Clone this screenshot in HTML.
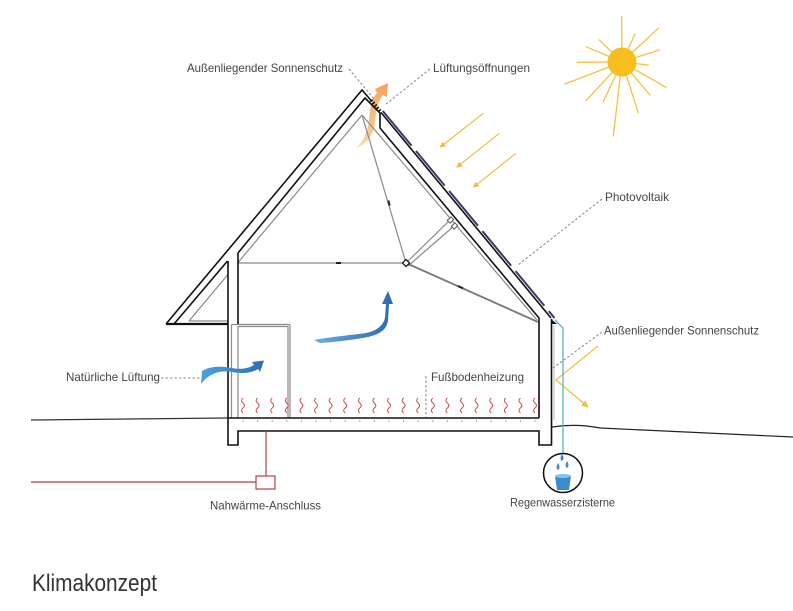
<!DOCTYPE html>
<html><head><meta charset="utf-8"><style>
html,body{margin:0;padding:0;background:#fff;}
svg{display:block;}
text{font-family:"Liberation Sans",sans-serif;fill:#454545;}
</style></head><body>
<svg width="793" height="611" viewBox="0 0 793 611" xmlns="http://www.w3.org/2000/svg">
<defs>
<marker id="ah" viewBox="0 0 10 10" refX="9" refY="5" markerWidth="6" markerHeight="6" orient="auto" markerUnits="userSpaceOnUse">
<path d="M0,0 L10,5 L0,10 Z" fill="#f2bb44"/>
</marker>
<marker id="ah2" viewBox="0 0 10 10" refX="9" refY="5" markerWidth="7" markerHeight="7" orient="auto" markerUnits="userSpaceOnUse">
<path d="M0,0 L10,5 L0,10 Z" fill="#eac44a"/>
</marker>
<linearGradient id="og" x1="0" y1="1" x2="0" y2="0">
<stop offset="0" stop-color="#fbd7a8"/><stop offset="1" stop-color="#f3a35a"/>
</linearGradient>
<linearGradient id="bg1" x1="0" y1="0" x2="1" y2="0">
<stop offset="0" stop-color="#4aa3de"/><stop offset="1" stop-color="#2d6fb8"/>
</linearGradient>
<linearGradient id="bg2" x1="0" y1="0" x2="1" y2="0">
<stop offset="0" stop-color="#6aaee0"/><stop offset="1" stop-color="#2c68b0"/>
</linearGradient>
</defs>
<rect width="793" height="611" fill="#fff"/>

<!-- Sun -->
<g stroke="#f5c244" stroke-width="1.3" stroke-linecap="round">
<line x1="622" y1="62" x2="621.7" y2="16.7"/>
<line x1="622" y1="62" x2="599.3" y2="40"/>
<line x1="622" y1="62" x2="586" y2="46.7"/>
<line x1="622" y1="62" x2="577.3" y2="62.3"/>
<line x1="622" y1="62" x2="565" y2="84"/>
<line x1="622" y1="62" x2="586" y2="100.7"/>
<line x1="622" y1="62" x2="603.3" y2="101.7"/>
<line x1="622" y1="62" x2="613.3" y2="136"/>
<line x1="622" y1="62" x2="638.3" y2="112.7"/>
<line x1="622" y1="62" x2="650" y2="95"/>
<line x1="622" y1="62" x2="666" y2="87.3"/>
<line x1="622" y1="62" x2="648.3" y2="65"/>
<line x1="622" y1="62" x2="659.3" y2="50"/>
<line x1="622" y1="62" x2="658.3" y2="28.3"/>
<line x1="622" y1="62" x2="635" y2="34"/>
</g>
<circle cx="622" cy="62" r="14.5" fill="#f8bd1e"/>

<!-- Sun arrows -->
<g stroke="#f2bb44" stroke-width="1.2" fill="none">
<line x1="483.3" y1="113.3" x2="440" y2="147.3" marker-end="url(#ah)"/>
<line x1="499.3" y1="133.3" x2="456.7" y2="167.3" marker-end="url(#ah)"/>
<line x1="516" y1="153.3" x2="473.3" y2="187.3" marker-end="url(#ah)"/>
</g>
<polyline points="598,346 556,380 588,407" fill="none" stroke="#eac44a" stroke-width="1.3" marker-end="url(#ah2)"/>

<!-- Orange ventilation arrow -->
<path d="M356,148 C363,142 368,132 369,120 C370,108 372,98 377,93 L375,89 L388,83 L387,97 L383,95 C378,101 376,110 375,122 C374,134 368,143 356,148 Z" fill="url(#og)"/>

<!-- Ground -->
<path d="M31,420 L228,418" stroke="#333" stroke-width="1.2" fill="none"/>
<path d="M552,427 C565,425 580,424 600,428 L793,437" stroke="#222" stroke-width="1.2" fill="none"/>

<!-- Gray interior lines -->
<g stroke="#8a8a8a" stroke-width="1.2" fill="none">
<line x1="189" y1="321" x2="228" y2="274.4"/>
<line x1="238" y1="262.5" x2="362" y2="115"/>
<line x1="189" y1="321" x2="228" y2="321"/>
<line x1="238" y1="263" x2="406" y2="263"/>
<line x1="362" y1="115" x2="406" y2="263"/>
<line x1="362" y1="115" x2="537" y2="320"/>
<line x1="406" y1="263" x2="450" y2="220"/>
<line x1="408" y1="266" x2="454" y2="226"/>
<!-- window -->
<line x1="231.5" y1="324.5" x2="231.5" y2="418"/>
<line x1="238" y1="326" x2="238" y2="418"/>
<line x1="288" y1="326" x2="288" y2="418"/>
<line x1="290" y1="324.5" x2="290" y2="418"/>
<line x1="231.5" y1="324.5" x2="290" y2="324.5"/>
<line x1="238" y1="326.5" x2="288" y2="326.5"/>
</g>
<line x1="406" y1="263" x2="538" y2="322" stroke="#7a7a7a" stroke-width="1.8"/>
<g fill="#fff" stroke="#555" stroke-width="1">
<rect x="448" y="218" width="5" height="4" transform="rotate(-45 450.5 220)"/>
<rect x="452" y="224" width="5" height="4" transform="rotate(-45 454.5 226)"/>
</g>
<g stroke="#222" stroke-width="2">
<line x1="336" y1="263" x2="341" y2="263"/>
<line x1="388.3" y1="200.5" x2="389.7" y2="205.5"/>
<line x1="458" y1="286" x2="463" y2="288.3"/>
</g>
<rect x="403.5" y="260.5" width="5" height="5" fill="#fff" stroke="#111" stroke-width="1.2" transform="rotate(45 406 263)"/>

<!-- Building black lines -->
<g stroke="#111" stroke-width="1.6" fill="none" stroke-linejoin="miter">
<path d="M166,324 L362,90 L372,101.5"/>
<path d="M381,112.5 L551,318"/>
<path d="M174,324 L227.5,261"/>
<path d="M238,253 L365,98 L380,113 L380,128 L539,318 L539,418"/>
<path d="M228,261 L228,445 L238,445 L238,431 L539,431 L539,445 L551.5,445 L551.5,319"/>
<path d="M238,253 L238,324"/>
<path d="M228,418 L539,418"/>
</g>
<line x1="166" y1="324" x2="228" y2="324" stroke="#111" stroke-width="2.2"/>
<!-- vent hatch -->
<line x1="371" y1="100" x2="381" y2="112" stroke="#111" stroke-width="3.2" stroke-dasharray="1.6 1.6"/>
<!-- gutter -->
<path d="M551,319 L557,324 L551,324 Z" fill="#111"/>
<line x1="554" y1="325" x2="554" y2="420" stroke="#bbb" stroke-width="1"/>

<!-- PV panels -->
<line x1="382.8" y1="111" x2="554.5" y2="318" stroke="#3a3a6a" stroke-width="2" stroke-dasharray="45 7"/>

<!-- Rain pipe -->
<path d="M555,320 L563,328 L563,454" stroke="#5ab2c9" stroke-width="1.3" fill="none"/>

<!-- Red heating pipe -->
<g stroke="#b9403f" stroke-width="1.2" fill="none">
<line x1="266" y1="431" x2="266" y2="476"/>
<line x1="31" y1="482" x2="256" y2="482"/>
<rect x="256" y="476" width="19" height="13" fill="#fff"/>
</g>

<!-- Blue arrows -->
<path d="M202,371 C210,366 222,366 232,368 C242,370 249,368 254,365 L252,362 L264,360.5 L260,372 L258,369 C252,373 243,374 232,372 C222,370 210,372 201,384 Z" fill="url(#bg1)"/>
<path d="M314,340 C330,337 352,335 366,333 C376,331 383,326 385,318 L386,304 L382,304 L388,291 L393,304 L389,304 L388,320 C387,329 381,334 368,337 C352,340 335,342 320,343 Z" fill="url(#bg2)"/>

<!-- Cistern -->
<circle cx="563" cy="473" r="19.5" fill="#fff" stroke="#111" stroke-width="1.5"/>
<path d="M555,476 L571,476 L569,490 L557,490 Z" fill="#3a8ccd"/>
<ellipse cx="563" cy="476" rx="8" ry="2" fill="#86c3ea"/>
<g fill="#3a8ccd">
<path d="M562,454 Q565,459 562,461 Q559,459 562,454 Z"/>
<path d="M558,463 Q561,468 558,470 Q555,468 558,463 Z"/>
<path d="M567,461 Q570,466 567,468 Q564,466 567,461 Z"/>
</g>

<!-- Leaders -->
<g stroke="#888" stroke-width="1" stroke-dasharray="2.5 2" fill="none">
<line x1="349" y1="69" x2="375" y2="100"/>
<line x1="430" y1="69" x2="386" y2="104"/>
<line x1="602" y1="199" x2="518" y2="265"/>
<line x1="602" y1="332" x2="553" y2="368"/>
<line x1="161" y1="378" x2="200" y2="378"/>
<line x1="426" y1="376" x2="426" y2="417"/>
</g>

<!-- Labels -->
<g font-size="12">
<text x="187" y="72" textLength="156" lengthAdjust="spacingAndGlyphs">Außenliegender Sonnenschutz</text>
<text x="433" y="72" textLength="97" lengthAdjust="spacingAndGlyphs">Lüftungsöffnungen</text>
<text x="605" y="201" textLength="64" lengthAdjust="spacingAndGlyphs">Photovoltaik</text>
<text x="604" y="334.5" textLength="155" lengthAdjust="spacingAndGlyphs">Außenliegender Sonnenschutz</text>
<text x="66" y="381" textLength="94" lengthAdjust="spacingAndGlyphs">Natürliche Lüftung</text>
<text x="431" y="381" textLength="93" lengthAdjust="spacingAndGlyphs">Fußbodenheizung</text>
<text x="210" y="509.5" textLength="111" lengthAdjust="spacingAndGlyphs">Nahwärme-Anschluss</text>
<text x="510" y="506.5" textLength="105" lengthAdjust="spacingAndGlyphs">Regenwasserzisterne</text>
</g>
<text x="32" y="591" font-size="24" textLength="125" lengthAdjust="spacingAndGlyphs" style="fill:#333">Klimakonzept</text>

<!-- Floor heating squiggles -->
<g stroke="#cc4a4a" stroke-width="1" fill="none">
<path d="M243,398 q-3,2.5 0,5 t0,5 t0,5"/>
<path d="M257.6,398 q-3,2.5 0,5 t0,5 t0,5"/>
<path d="M272.2,398 q-3,2.5 0,5 t0,5 t0,5"/>
<path d="M286.8,398 q-3,2.5 0,5 t0,5 t0,5"/>
<path d="M301.4,398 q-3,2.5 0,5 t0,5 t0,5"/>
<path d="M316,398 q-3,2.5 0,5 t0,5 t0,5"/>
<path d="M330.6,398 q-3,2.5 0,5 t0,5 t0,5"/>
<path d="M345.2,398 q-3,2.5 0,5 t0,5 t0,5"/>
<path d="M359.8,398 q-3,2.5 0,5 t0,5 t0,5"/>
<path d="M374.4,398 q-3,2.5 0,5 t0,5 t0,5"/>
<path d="M389,398 q-3,2.5 0,5 t0,5 t0,5"/>
<path d="M403.6,398 q-3,2.5 0,5 t0,5 t0,5"/>
<path d="M418.2,398 q-3,2.5 0,5 t0,5 t0,5"/>
<path d="M432.8,398 q-3,2.5 0,5 t0,5 t0,5"/>
<path d="M447.4,398 q-3,2.5 0,5 t0,5 t0,5"/>
<path d="M462,398 q-3,2.5 0,5 t0,5 t0,5"/>
<path d="M476.6,398 q-3,2.5 0,5 t0,5 t0,5"/>
<path d="M491.2,398 q-3,2.5 0,5 t0,5 t0,5"/>
<path d="M505.8,398 q-3,2.5 0,5 t0,5 t0,5"/>
<path d="M520.4,398 q-3,2.5 0,5 t0,5 t0,5"/>
<path d="M535,398 q-3,2.5 0,5 t0,5 t0,5"/>
</g>
<g stroke="#cc4a4a" stroke-width="1.2" stroke-dasharray="1 13.6">
<line x1="242.5" y1="421" x2="540" y2="421"/>
</g>
</svg>
</body></html>
